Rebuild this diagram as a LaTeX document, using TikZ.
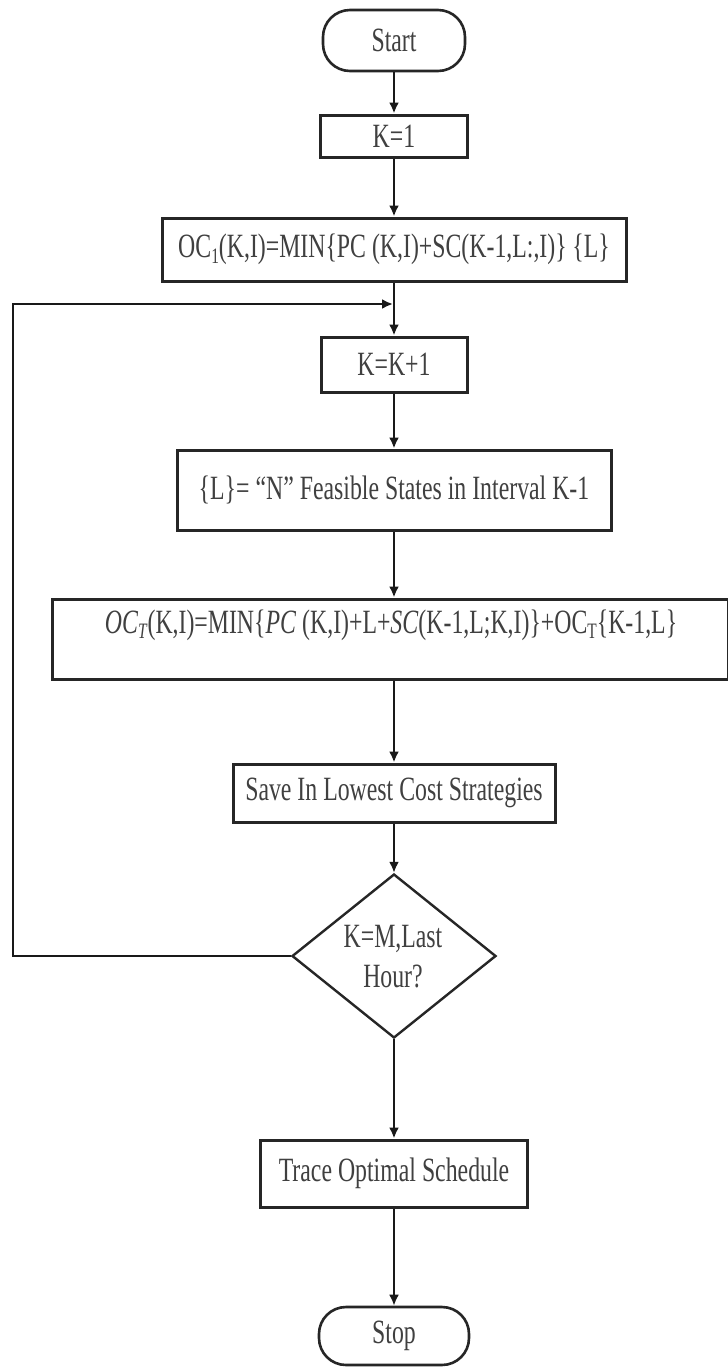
\documentclass[tikz,border=0pt]{standalone}
\usepackage{fontspec}
\setmainfont{Liberation Serif}[FakeStretch=0.70]
\usetikzlibrary{arrows.meta,shapes.geometric}
\newcommand{\sbs}[1]{\raisebox{-0.35ex}{\fontsize{22}{22}\selectfont #1}}
\begin{document}
\begin{tikzpicture}[x=1pt,y=-1pt,
  every node/.style={font=\fontsize{34}{40}\selectfont, text=black!75},
  box/.style={draw=black!85, line width=3pt, inner sep=0pt, rectangle},
  term/.style={draw=black!85, line width=2.6pt, rounded corners=27pt, inner sep=0pt},
  dec/.style={draw=black!85, line width=2.4pt, diamond, inner sep=0pt, minimum width=204pt, minimum height=164pt},
  flow/.style={draw=black!90, line width=2.8pt, -{Latex[length=11pt,width=10pt]}},
  lbl/.style={inner sep=0pt, align=center}]
\useasboundingbox (0,0) rectangle (728,1369);
\fill[white] (0,0) rectangle (728,1369);

\node[term, minimum width=142pt, minimum height=61pt] (start) at (394,40.5) {Start};
\node[box, minimum width=147pt, minimum height=42pt] (k1) at (394,136) {K=1};
\node[box, minimum width=464pt, minimum height=63pt] (oc1) at (394,249.5)
  {OC\sbs{1}(K,I)=MIN\{PC (K,I)+SC(K-1,L:,I)\}\,\{L\}};
\node[box, minimum width=146pt, minimum height=55pt] (kk) at (394,364.5) {K=K+1};
\node[box, minimum width=434pt, minimum height=80pt] (lset) at (394,490)
  {\{L\}= ``N'' Feasible States in Interval K-1};
\node[box, minimum width=676pt, minimum height=80pt] (oct) at (390,639) {};
\node[lbl] (octtext) at (391,625)
  {\textit{OC}\sbs{\textit{T}}(K,I)=MIN\{\textit{PC} (K,I)+L+\textit{SC}(K-1,L;K,I)\}+OC\sbs{T}\{K-1,L\}};
\node[box, minimum width=322pt, minimum height=58pt] (save) at (394,793) {Save In Lowest Cost Strategies};
\node[dec] (dec) at (394,956) {};
\node[lbl] (dectext) at (393,957) {K=M,Last\\Hour?};
\node[box, minimum width=267pt, minimum height=67pt] (trace) at (394,1173.5) {Trace Optimal Schedule};
\node[term, minimum width=150pt, minimum height=58pt] (stop) at (394,1336) {Stop};

\coordinate (loopA) at (13,956);
\coordinate (loopB) at (13,304);
\coordinate (loopC) at (393,304);

\draw[flow] (start.south) -- (k1.north);
\draw[flow] (k1.south) -- (oc1.north);
\draw[flow] (oc1.south) -- (kk.north);
\draw[flow] (kk.south) -- (lset.north);
\draw[flow] (lset.south) -- (oct.north -| lset.south);
\draw[flow] (oct.south -| lset.south) -- (save.north);
\draw[flow] (save.south) -- (dec.north);
\draw[flow] (dec.south) -- (trace.north);
\draw[flow] (trace.south) -- (stop.north);
\draw[flow] (dec.west) -- (loopA) -- (loopB) -- (loopC);
\end{tikzpicture}
\end{document}
